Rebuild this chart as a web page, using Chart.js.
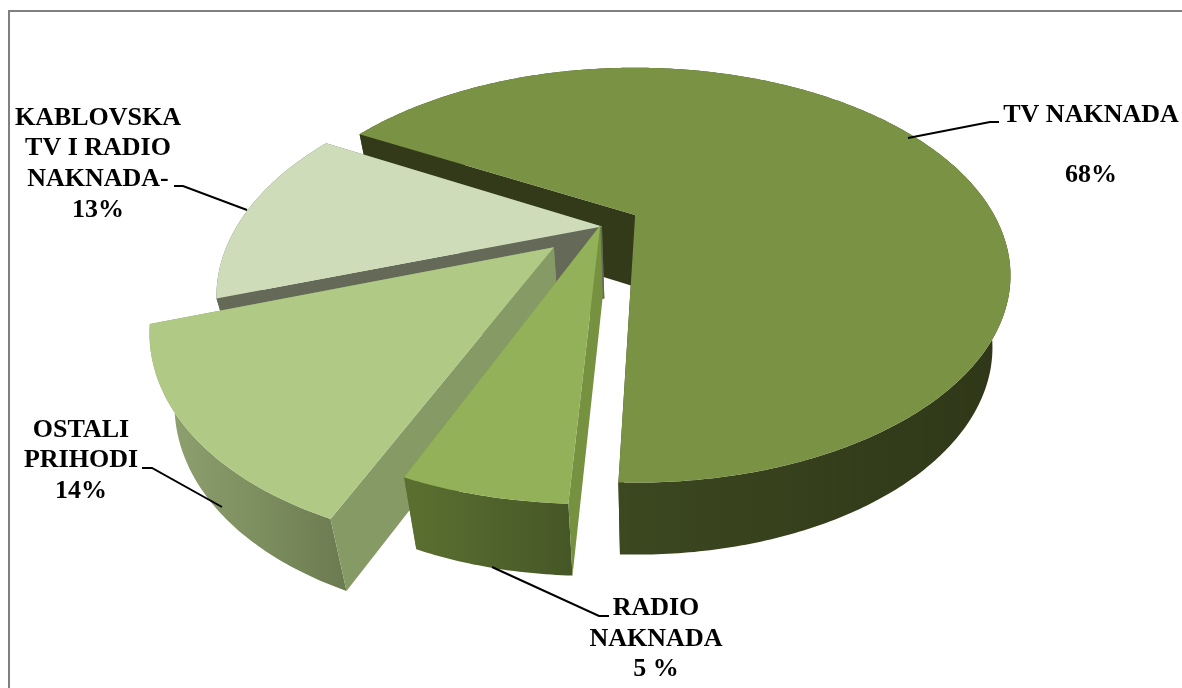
<!DOCTYPE html>
<html>
<head>
<meta charset="utf-8">
<style>
  html, body { margin: 0; padding: 0; width: 1182px; height: 688px; overflow: hidden; background: #fff; }
  #frame { position: absolute; left: 8px; top: 10px; width: 1300px; height: 800px; border-left: 2px solid #7f7f7f; border-top: 2px solid #7f7f7f; }
  canvas { position: absolute; left: 0; top: 0; }
</style>
<script src="https://cdn.jsdelivr.net/npm/chart.js@4"></script>
</head>
<body>
<div id="frame"></div>
<canvas id="pie" width="1182" height="688"></canvas>
<script>
const categories = ['TV NAKNADA', 'RADIO NAKNADA', 'OSTALI PRIHODI', 'KABLOVSKA TV I RADIO NAKNADA'];
const values = [67.5, 5.4, 13.7, 13.4];

// label lines as printed on the picture
const labelLines = [
    ['TV NAKNADA', '', '68%'],
    ['RADIO', 'NAKNADA', '5 %'],
    ['OSTALI', 'PRIHODI', '14%'],
    ['KABLOVSKA', 'TV I RADIO', 'NAKNADA-', '13%']
];

// perspective of the pie plane
const view = { cx: 633, cy: 215, a: 359, s: 190, p: 0.29, drop: 72, shrink: 0.95, vanishX: 650 };

const sliceStyles = [
    { top: '#7a9243', wall: ['#3c4820', '#2f3718'], wallX: [620, 1000], face: '#323a1a', shift: [0.006, 0] },
    { top: '#93b158', wall: ['#5a6e30', '#465727'], wallX: [420, 571], face: '#76913f', shift: [-0.09, 0.055] },
    { top: '#b0c985', wall: ['#8ea06e', '#6a7a4f'], wallX: [172, 352], face: '#869a66', shift: [-0.21, 0.162] },
    { top: '#cfdcba', wall: ['#646a57', '#646a57'], wallX: [220, 340], face: '#646a57', shift: [-0.085, 0.06] }
];

const labelStyles = [
    { x: 1091, ys: [115, 145, 175], line: [[908, 138], [990, 122], [999, 122]] },
    { x: 656, ys: [608, 639, 669], line: [[492, 567], [599, 616], [609, 616]] },
    { x: 81, ys: [430, 460, 491], line: [[222, 507], [152, 468], [142, 468]] },
    { x: 98, ys: [118, 148, 179, 210], line: [[247, 210], [183, 186], [174, 186]] }
];

function project(u, v) {
    const k = 1 / (1 - view.p * v);
    return { x: view.cx + view.a * u * k, y: view.cy + view.s * v * k };
}

function lower(pt) {
    return { x: view.vanishX + (pt.x - view.vanishX) * view.shrink, y: pt.y + view.drop };
}

function fillPoly(ctx, pts, fill) {
    ctx.beginPath();
    pts.forEach((pt, i) => i ? ctx.lineTo(pt.x, pt.y) : ctx.moveTo(pt.x, pt.y));
    ctx.closePath();
    ctx.fillStyle = fill;
    ctx.fill();
}

function drawSlice(ctx, arc, style) {
    const { startAngle, endAngle } = arc.getProps(['startAngle', 'endAngle'], true);
    const apex = project(style.shift[0], style.shift[1]);
    const rim = [];
    const steps = Math.ceil((endAngle - startAngle) * 90);
    for (let i = 0; i <= steps; i++) {
        const t = startAngle + (endAngle - startAngle) * i / steps;
        rim.push(project(style.shift[0] + Math.cos(t), style.shift[1] + Math.sin(t)));
    }
    const first = rim[0], last = rim[rim.length - 1];

    // hidden cut face, outer wall, visible cut face, top
    fillPoly(ctx, [apex, last, lower(last), lower(apex)], style.face);
    const grad = ctx.createLinearGradient(style.wallX[0], 0, style.wallX[1], 0);
    grad.addColorStop(0, style.wall[0]);
    grad.addColorStop(1, style.wall[1]);
    fillPoly(ctx, rim.concat(rim.map(lower).reverse()), grad);
    fillPoly(ctx, [apex, first, lower(first), lower(apex)], style.face);
    fillPoly(ctx, [apex].concat(rim), style.top);
}

const pie3d = {
    id: 'pie3d',
    beforeDatasetsDraw(chart) {
        const arcs = chart.getDatasetMeta(0).data;
        [0, 3, 2, 1].forEach(i => drawSlice(chart.ctx, arcs[i], sliceStyles[i]));
        return false;
    },
    afterDraw(chart) {
        const ctx = chart.ctx;
        ctx.save();
        labelStyles.forEach((style, i) => {
            ctx.beginPath();
            style.line.forEach((pt, j) => j ? ctx.lineTo(pt[0], pt[1]) : ctx.moveTo(pt[0], pt[1]));
            ctx.strokeStyle = '#000';
            ctx.lineWidth = 2;
            ctx.stroke();
            ctx.font = 'bold 26px "Liberation Serif"';
            ctx.fillStyle = '#000';
            ctx.textAlign = 'center';
            ctx.textBaseline = 'middle';
            labelLines[i].forEach((text, j) => {
                if (text) ctx.fillText(text, style.x, style.ys[j]);
            });
        });
        ctx.restore();
    }
};

new Chart(document.getElementById('pie').getContext('2d'), {
    type: 'pie',
    data: {
        labels: categories,
        datasets: [{ data: values, borderWidth: 0 }]
    },
    options: {
        responsive: false,
        animation: false,
        rotation: 299,
        plugins: { legend: { display: false }, tooltip: { enabled: false } }
    },
    plugins: [pie3d]
});
</script>
</body>
</html>
